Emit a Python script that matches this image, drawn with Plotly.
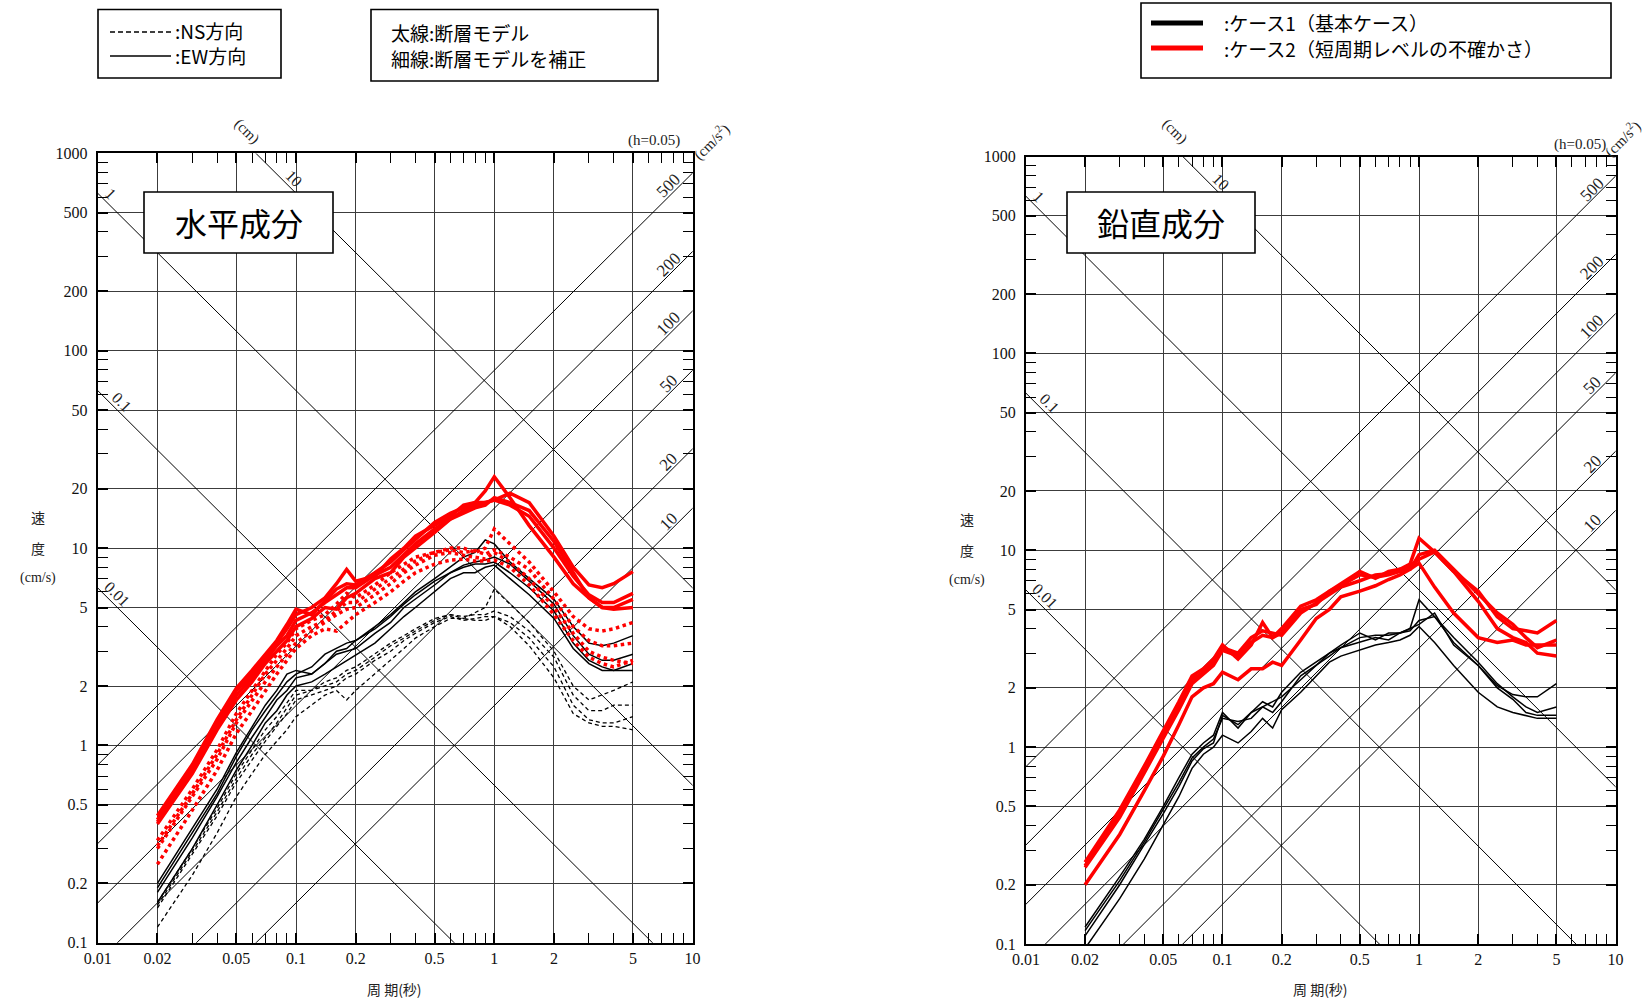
import numpy as np
import plotly.graph_objects as go

# periods (s) at which the spectra are read
period = [0.02, 0.03, 0.04, 0.05, 0.06, 0.07, 0.08, 0.09, 0.1, 0.12, 0.14, 0.16, 0.18, 0.2,
          0.25, 0.3, 0.35, 0.4, 0.5, 0.6, 0.7, 0.8, 0.9, 1.0, 1.2, 1.5, 2.0, 2.5, 3.0, 3.5, 4.0, 5.0]

# 水平成分 : case 2 (red), EW solid / NS dotted
h_red_ew = [
    [0.44, 0.80, 1.35, 1.95, 2.4, 2.9, 3.4, 4.1, 4.9, 4.6, 5.4, 6.2, 6.6, 6.5, 7.5, 8.5, 9.8, 11.0, 13.5, 15.0, 16.0, 17.0, 19.5, 23.0, 18.0, 13.0, 9.0, 6.6, 5.6, 5.0, 4.9, 5.0],
    [0.42, 0.78, 1.30, 1.90, 2.3, 2.8, 3.3, 3.9, 4.6, 5.0, 5.6, 6.6, 7.8, 6.8, 7.2, 8.8, 10.0, 11.5, 13.0, 14.5, 16.5, 17.0, 17.0, 17.5, 19.0, 17.0, 11.5, 8.0, 6.5, 6.3, 6.6, 7.6],
    [0.41, 0.75, 1.25, 1.80, 2.2, 2.7, 3.2, 3.6, 4.3, 4.7, 5.3, 5.8, 6.3, 6.3, 7.3, 8.0, 9.3, 10.5, 12.5, 14.0, 15.5, 16.5, 17.0, 17.5, 16.5, 14.5, 10.0, 7.2, 5.8, 5.3, 5.3, 5.9],
    [0.40, 0.72, 1.20, 1.70, 2.1, 2.6, 3.0, 3.4, 4.0, 4.4, 5.0, 4.9, 5.6, 5.9, 7.0, 7.5, 9.0, 10.0, 12.0, 14.0, 15.0, 16.0, 16.5, 18.0, 17.0, 15.5, 10.8, 7.5, 5.6, 5.0, 5.0, 5.5],
]
h_red_ns = [
    [0.33, 0.60, 0.95, 1.45, 1.9, 2.4, 2.9, 3.3, 3.9, 4.3, 4.6, 5.2, 5.9, 5.6, 6.5, 7.5, 8.3, 9.0, 9.5, 10.0, 10.0, 9.5, 10.0, 12.5, 10.5, 8.5, 6.0, 4.5, 3.9, 3.8, 3.9, 4.2],
    [0.31, 0.57, 0.90, 1.35, 1.8, 2.3, 2.7, 3.1, 3.6, 4.0, 4.3, 4.8, 5.3, 5.3, 6.2, 7.0, 7.8, 8.6, 9.5, 9.8, 9.5, 9.7, 9.3, 9.8, 9.0, 7.8, 5.5, 4.0, 3.4, 3.2, 3.2, 3.3],
    [0.30, 0.55, 0.85, 1.30, 1.7, 2.1, 2.5, 2.9, 3.3, 3.8, 4.2, 4.6, 4.9, 5.0, 5.8, 6.6, 7.5, 8.2, 9.2, 9.5, 9.2, 9.0, 8.8, 9.5, 8.5, 7.0, 5.0, 3.7, 3.0, 2.8, 2.7, 2.6],
    [0.25, 0.47, 0.75, 1.15, 1.5, 1.9, 2.3, 2.7, 3.1, 3.6, 3.9, 3.8, 4.2, 4.6, 5.3, 6.0, 6.8, 7.5, 8.3, 8.7, 8.8, 8.6, 8.6, 8.7, 8.0, 6.5, 4.6, 3.4, 2.8, 2.6, 2.5, 2.7],
]
# 水平成分 : case 1 (black), EW solid / NS dashed
h_black_ew = [
    [0.20, 0.38, 0.60, 0.92, 1.25, 1.6, 1.9, 2.3, 2.4, 2.3, 2.6, 3.0, 3.1, 3.4, 4.0, 4.6, 5.3, 6.0, 7.0, 8.0, 9.0, 9.5, 11.0, 10.5, 8.5, 7.0, 5.5, 4.0, 3.3, 3.2, 3.3, 3.6],
    [0.19, 0.36, 0.57, 0.88, 1.2, 1.5, 1.8, 2.1, 2.3, 2.5, 2.9, 3.1, 3.3, 3.4, 3.9, 4.5, 5.2, 5.8, 6.8, 7.5, 8.2, 8.5, 8.7, 9.0, 8.3, 6.8, 5.2, 3.6, 2.9, 2.7, 2.7, 2.9],
    [0.18, 0.34, 0.55, 0.82, 1.1, 1.4, 1.7, 1.9, 2.2, 2.3, 2.6, 2.9, 3.0, 3.1, 3.7, 4.2, 5.0, 5.5, 6.5, 7.5, 8.0, 8.3, 8.3, 8.5, 7.5, 6.3, 4.8, 3.3, 2.7, 2.5, 2.4, 2.4],
    [0.16, 0.30, 0.50, 0.75, 1.0, 1.3, 1.5, 1.8, 2.0, 2.1, 2.3, 2.5, 2.7, 2.9, 3.3, 3.9, 4.5, 5.0, 6.0, 7.0, 7.5, 7.5, 8.0, 8.2, 7.0, 5.8, 4.4, 3.1, 2.6, 2.4, 2.4, 2.6],
]
h_black_ns = [
    [0.16, 0.30, 0.48, 0.72, 0.95, 1.2, 1.4, 1.65, 1.9, 1.9, 2.1, 2.2, 2.4, 2.5, 2.9, 3.3, 3.6, 3.9, 4.4, 4.6, 4.4, 4.7, 5.0, 6.2, 5.2, 4.2, 3.0, 2.0, 1.7, 1.8, 1.9, 2.1],
    [0.155, 0.29, 0.46, 0.68, 0.9, 1.1, 1.3, 1.55, 1.8, 1.9, 2.0, 2.1, 2.3, 2.4, 2.8, 3.2, 3.5, 3.8, 4.3, 4.6, 4.5, 4.6, 4.6, 4.8, 4.5, 3.8, 2.8, 1.8, 1.5, 1.5, 1.6, 1.6],
    [0.15, 0.28, 0.44, 0.65, 0.85, 1.05, 1.25, 1.45, 1.7, 1.8, 1.9, 2.0, 2.2, 2.3, 2.7, 3.0, 3.4, 3.7, 4.2, 4.5, 4.3, 4.4, 4.5, 4.5, 4.2, 3.5, 2.5, 1.6, 1.35, 1.3, 1.3, 1.4],
    [0.12, 0.22, 0.36, 0.55, 0.72, 0.9, 1.05, 1.2, 1.4, 1.6, 1.8, 1.9, 1.7, 1.9, 2.3, 2.7, 3.1, 3.5, 4.0, 4.4, 4.4, 4.3, 4.3, 4.5, 4.0, 3.2, 2.2, 1.45, 1.3, 1.25, 1.25, 1.2],
]

# 鉛直成分 : case 2 (red) and case 1 (black)
v_red = [
    [0.26, 0.48, 0.80, 1.20, 1.70, 2.30, 2.50, 2.80, 3.30, 2.80, 3.30, 4.30, 3.60, 4.00, 5.20, 5.60, 6.20, 6.80, 7.80, 7.20, 7.80, 8.00, 8.50, 11.5, 9.80, 7.80, 6.20, 4.60, 4.00, 3.90, 3.80, 4.40],
    [0.25, 0.46, 0.77, 1.15, 1.60, 2.20, 2.40, 2.70, 3.20, 3.00, 3.60, 3.90, 3.80, 3.70, 4.80, 5.40, 6.00, 6.50, 7.00, 7.50, 7.60, 8.00, 8.00, 9.50, 10.0, 8.00, 6.00, 4.80, 4.20, 3.60, 3.20, 3.50],
    [0.245, 0.44, 0.74, 1.10, 1.55, 2.10, 2.35, 2.60, 3.10, 2.90, 3.40, 3.70, 3.60, 3.80, 5.00, 5.30, 6.20, 6.60, 7.50, 7.30, 7.50, 7.80, 8.30, 9.00, 9.80, 7.80, 5.50, 4.00, 3.60, 3.40, 3.00, 2.90],
    [0.20, 0.36, 0.60, 0.90, 1.30, 1.80, 2.00, 2.10, 2.40, 2.20, 2.50, 2.50, 2.70, 2.60, 3.50, 4.50, 5.00, 5.80, 6.20, 6.60, 7.10, 7.50, 8.00, 8.60, 6.50, 4.80, 3.60, 3.40, 3.50, 3.30, 3.30, 3.30],
]
v_black = [
    [0.122, 0.22, 0.34, 0.50, 0.70, 0.92, 1.05, 1.15, 1.50, 1.25, 1.50, 1.70, 1.60, 1.90, 2.40, 2.70, 3.00, 3.30, 3.80, 3.50, 3.80, 3.80, 4.00, 5.60, 4.60, 3.40, 2.60, 2.05, 1.85, 1.80, 1.80, 2.10],
    [0.117, 0.21, 0.33, 0.48, 0.66, 0.88, 1.00, 1.10, 1.40, 1.35, 1.40, 1.60, 1.70, 1.80, 2.20, 2.60, 3.00, 3.20, 3.60, 3.70, 3.70, 3.80, 4.00, 4.20, 4.80, 3.30, 2.60, 2.00, 1.75, 1.50, 1.45, 1.45],
    [0.11, 0.20, 0.32, 0.46, 0.63, 0.85, 0.98, 1.05, 1.45, 1.30, 1.50, 1.60, 1.50, 1.70, 2.30, 2.60, 2.90, 3.20, 3.40, 3.60, 3.50, 3.80, 3.90, 4.40, 4.60, 3.60, 2.70, 2.10, 1.80, 1.60, 1.50, 1.60],
    [0.095, 0.17, 0.27, 0.40, 0.56, 0.78, 0.92, 1.00, 1.15, 1.05, 1.20, 1.40, 1.25, 1.55, 1.90, 2.30, 2.70, 2.90, 3.10, 3.30, 3.40, 3.50, 3.70, 4.10, 3.40, 2.60, 1.90, 1.60, 1.50, 1.45, 1.40, 1.40],
]

# tripartite guide lines
acc_levels = [10, 20, 50, 100, 200, 500]      # cm/s2
disp_levels = [0.01, 0.1, 1, 10]              # cm
x_ticks = [0.01, 0.02, 0.05, 0.1, 0.2, 0.5, 1, 2, 5, 10]
x_tick_text = ["0.01", "0.02", "0.05", "0.1", "0.2", "0.5", "1", "2", "5", "10"]
y_ticks = [0.1, 0.2, 0.5, 1, 2, 5, 10, 20, 50, 100, 200, 500, 1000]
y_tick_text = ["0.1", "0.2", "0.5", "1", "2", "5", "10", "20", "50", "100", "200", "500", "1000"]

W, H = 1648, 1001
SERIF = "Liberation Serif, DejaVu Serif, serif"
JP = "Noto Sans CJK JP, Noto Sans, sans-serif"
TWO_PI = 2 * np.pi


def px(x):
    return x / W


def py(y):
    return 1 - y / H


fig = go.Figure()

# (x axis, y axis, left, right, top, bottom) in pixels
panels = [("x", "y", 97.7, 692.6, 153.4, 942.8),
          ("x2", "y2", 1025.9, 1615.6, 156.5, 944.0)]

t_ends = np.array([0.005, 20.0])
for xa, ya, *_ in panels:
    for a in acc_levels:
        fig.add_trace(go.Scatter(x=t_ends, y=a * t_ends / TWO_PI, mode="lines", xaxis=xa, yaxis=ya,
                                 line=dict(color="black", width=1), hoverinfo="skip", showlegend=False))
    for d in disp_levels:
        fig.add_trace(go.Scatter(x=t_ends, y=TWO_PI * d / t_ends, mode="lines", xaxis=xa, yaxis=ya,
                                 line=dict(color="black", width=1), hoverinfo="skip", showlegend=False))


def add_curves(curves, xa, ya, color, width, dash):
    for c in curves:
        fig.add_trace(go.Scatter(x=period, y=c, mode="lines", xaxis=xa, yaxis=ya,
                                 line=dict(color=color, width=width, dash=dash),
                                 showlegend=False))


add_curves(h_black_ns, "x", "y", "black", 1.3, "4px,3px")
add_curves(h_black_ew, "x", "y", "black", 1.5, "solid")
add_curves(h_red_ns, "x", "y", "#ff0000", 3.5, "dot")
add_curves(h_red_ew, "x", "y", "#ff0000", 3.5, "solid")
add_curves(v_black, "x2", "y2", "black", 1.5, "solid")
add_curves(v_red, "x2", "y2", "#ff0000", 3.5, "solid")

minor_x = [m * 10.0 ** e for e in (-2, -1, 0) for m in (3, 4, 6, 7, 8, 9)]
minor_y = [m * 10.0 ** e for e in (-1, 0, 1, 2) for m in (3, 4, 6, 7, 8, 9)]
axis_common = dict(type="log", showline=True, linecolor="black", linewidth=2, mirror="ticks",
                   showgrid=True, gridcolor="#3c3c3c", gridwidth=1, zeroline=False, automargin=False,
                   ticks="inside", ticklen=10, tickwidth=2, tickcolor="black",
                   tickfont=dict(family=SERIF, size=16, color="#111"))

layout = dict(width=W, height=H, autosize=False, margin=dict(l=0, r=0, t=0, b=0, pad=0),
              plot_bgcolor="white", paper_bgcolor="white", showlegend=False)
for xa, ya, l, r, t, b in panels:
    xk = "xaxis" + xa[1:]
    yk = "yaxis" + ya[1:]
    layout[xk] = dict(axis_common, domain=[px(l), px(r)], anchor=ya, range=[-2, 1],
                      tickvals=x_ticks, ticktext=x_tick_text,
                      minor=dict(tickvals=minor_x, ticks="inside", ticklen=10, tickwidth=1,
                                 tickcolor="black", showgrid=False))
    layout[yk] = dict(axis_common, domain=[py(b), py(t)], anchor=xa, range=[-1, 3],
                      tickvals=y_ticks, ticktext=y_tick_text, ticklabelstandoff=5,
                      minor=dict(tickvals=minor_y, ticks="inside", ticklen=10, tickwidth=1,
                                 tickcolor="black", showgrid=False))
fig.update_layout(**layout)

ann = []
shapes = []


def text(x, y, s, size=15, family=SERIF, angle=0, xanchor="center", color="#222"):
    ann.append(dict(x=px(x), y=py(y), xref="paper", yref="paper", text=s, showarrow=False,
                    textangle=angle, xanchor=xanchor, yanchor="middle",
                    font=dict(family=family, size=size, color=color)))


def box(x0, y0, x1, y1):
    shapes.append(dict(type="rect", xref="paper", yref="paper", x0=px(x0), y0=py(y0),
                       x1=px(x1), y1=py(y1), line=dict(color="black", width=1.6),
                       fillcolor="white", layer="above"))


# guide line labels, placed in data space next to each line
s = 0.035
for xa, ya, *_ in panels:
    for a in acc_levels:
        lt = 0.876
        ly = np.log10(a / TWO_PI) + lt
        ann.append(dict(x=lt + 0.004, y=ly + 0.058, xref=xa, yref=ya, text=str(a), showarrow=False,
                        textangle=-45, font=dict(family=SERIF, size=17, color="#222")))
    for d, lt in zip(disp_levels, [-1.955, -1.93, -1.985, -1.06]):
        ly = np.log10(TWO_PI * d) - lt
        ann.append(dict(x=lt + s + 0.015, y=ly + s - 0.02, xref=xa, yref=ya, text=f"{d:g}",
                        showarrow=False, textangle=45,
                        font=dict(family=SERIF, size=16, color="#222")))

# unit labels around the frames
for dx in (0, 928):
    text(247 + dx, 131, "(cm)", angle=45)
text(711, 141, "(cm/s<sup>2</sup>)", angle=-45)
text(1622, 138, "(cm/s<sup>2</sup>)", angle=-45)
text(654, 140, "(h=0.05)")
text(1580, 144, "(h=0.05)")

# axis titles
for x0, y0, x1 in ((38, 517, 394), (967, 519, 1320)):
    text(x0, y0, "速", size=14, family=JP)
    text(x0, y0 + 31, "度", size=14, family=JP)
    text(x0, y0 + 61, "(cm/s)", size=14)
    text(x1, 989, "周 期(秒)", size=14, family=JP)

# component titles
box(144, 192, 333, 253)
text(238.5, 222.5, "水平成分", size=32, family=JP, color="black")
box(1067, 192, 1255, 253)
text(1161, 222.5, "鉛直成分", size=32, family=JP, color="black")

# legend: line style
box(98, 9.5, 281, 78)
shapes.append(dict(type="line", xref="paper", yref="paper", x0=px(110), x1=px(171), y0=py(32), y1=py(32),
                   line=dict(color="black", width=1.5, dash="5px,3px")))
shapes.append(dict(type="line", xref="paper", yref="paper", x0=px(110), x1=px(171), y0=py(56), y1=py(56),
                   line=dict(color="black", width=1.5)))
text(173, 31, ":NS方向", size=19, family=JP, xanchor="left", color="black")
text(173, 56, ":EW方向", size=19, family=JP, xanchor="left", color="black")

# legend: line weight
box(371, 9.5, 658, 81)
text(389, 32, "太線:断層モデル", size=19, family=JP, xanchor="left", color="black")
text(389, 58, "細線:断層モデルを補正", size=19, family=JP, xanchor="left", color="black")

# legend: cases
box(1141, 3, 1611, 78)
shapes.append(dict(type="line", xref="paper", yref="paper", x0=px(1151), x1=px(1203), y0=py(23), y1=py(23),
                   line=dict(color="black", width=5)))
shapes.append(dict(type="line", xref="paper", yref="paper", x0=px(1151), x1=px(1203), y0=py(48), y1=py(48),
                   line=dict(color="#ff0000", width=5)))
text(1222, 22, ":ケース1（基本ケース）", size=19, family=JP, xanchor="left", color="black")
text(1222, 48, ":ケース2（短周期レベルの不確かさ）", size=19, family=JP, xanchor="left", color="black")

fig.update_layout(annotations=ann, shapes=shapes)
# drop the browser's default body margin so the figure sits at the page origin
fig.write_html("out.html", config={"displayModeBar": False},
               post_script="document.body.style.margin='0px';")
